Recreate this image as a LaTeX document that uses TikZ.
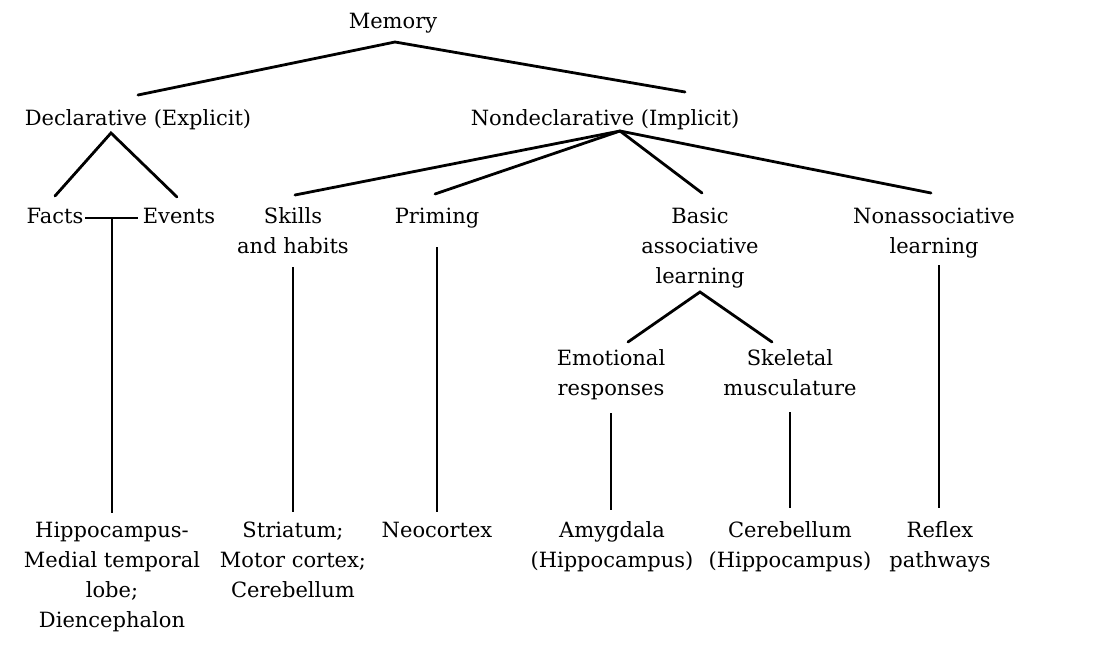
\documentclass[tikz,border=0pt]{standalone}
\usepackage{fontspec}
\setmainfont{DejaVu Serif}
\begin{document}
\begin{tikzpicture}[x=1pt,y=-1pt,
  lbl/.style={inner sep=0pt, align=center, anchor=base, font=\fontsize{21}{30}\selectfont},
  conn/.style={line width=2.8pt, line cap=round, black},
  vconn/.style={line width=2.4pt, black}]
\useasboundingbox (0,0) rectangle (1093,656);
% labels (anchor = baseline of last line)
\node[lbl] (memory) at (393,28) {Memory};
\node[lbl] (decl) at (138,125) {Declarative (Explicit)};
\node[lbl] (nondecl) at (605,125) {Nondeclarative (Implicit)};
\node[lbl] (facts) at (55,223) {Facts};
\node[lbl] (events) at (179,223) {Events};
\node[lbl] (skills) at (293,253) {Skills\\and habits};
\node[lbl] (priming) at (437,223) {Priming};
\node[lbl] (basic) at (700,283) {Basic\\associative\\learning};
\node[lbl] (nonassoc) at (934,253) {Nonassociative\\learning};
\node[lbl] (emot) at (611,395) {Emotional\\responses};
\node[lbl] (skel) at (790,395) {Skeletal\\musculature};
\node[lbl] (hippo) at (112,627) {Hippocampus-\\Medial temporal\\lobe;\\Diencephalon};
\node[lbl] (striatum) at (293,597) {Striatum;\\Motor cortex;\\Cerebellum};
\node[lbl] (neo) at (437,537) {Neocortex};
\node[lbl] (amyg) at (612,567) {Amygdala\\(Hippocampus)};
\node[lbl] (cereb) at (790,567) {Cerebellum\\(Hippocampus)};
\node[lbl] (reflex) at (940,567) {Reflex\\pathways};
% connector points
\coordinate (memA) at (395,42);
\coordinate (declT) at (138,95);
\coordinate (nondT) at (685,92);
\coordinate (declA) at (111,133);
\coordinate (factsT) at (55,196);
\coordinate (eventsT) at (177,197);
\coordinate (feL) at (85,218);
\coordinate (feR) at (138,218);
\coordinate (feM) at (112,218);
\coordinate (hippoT) at (112,513);
\coordinate (nondA) at (620,131);
\coordinate (skillsT) at (295,195);
\coordinate (primingT) at (435,194);
\coordinate (basicT) at (702,193);
\coordinate (nonassocT) at (931,193);
\coordinate (skillsB) at (293,267);
\coordinate (striatumT) at (293,512);
\coordinate (primingB) at (437,247);
\coordinate (neoT) at (437,512);
\coordinate (basicA) at (700,292);
\coordinate (emotT) at (628,342);
\coordinate (skelT) at (772,342);
\coordinate (emotB) at (611,413);
\coordinate (amygT) at (611,510);
\coordinate (skelB) at (790,412);
\coordinate (cerebT) at (790,508);
\coordinate (nonassocB) at (939,265);
\coordinate (reflexT) at (939,508);
% connectors
\draw[conn] (declT) -- (memA) -- (nondT);
\draw[conn] (factsT) -- (declA) -- (eventsT);
\draw[vconn] (feL) -- (feR);
\draw[vconn] (feM) -- (hippoT);
\draw[conn] (nondA) -- (skillsT);
\draw[conn] (nondA) -- (primingT);
\draw[conn] (nondA) -- (basicT);
\draw[conn] (nondA) -- (nonassocT);
\draw[vconn] (skillsB) -- (striatumT);
\draw[vconn] (primingB) -- (neoT);
\draw[conn] (emotT) -- (basicA) -- (skelT);
\draw[vconn] (emotB) -- (amygT);
\draw[vconn] (skelB) -- (cerebT);
\draw[vconn] (nonassocB) -- (reflexT);
\end{tikzpicture}
\end{document}
